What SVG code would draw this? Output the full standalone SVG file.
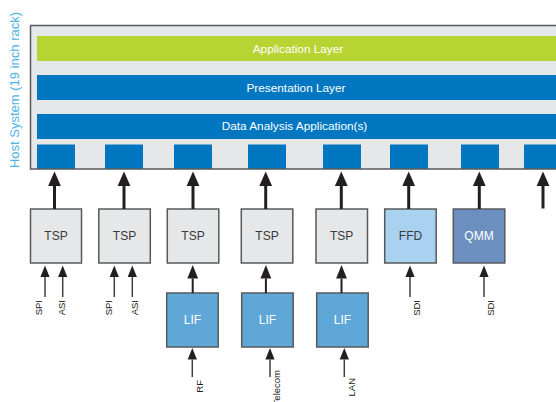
<svg xmlns="http://www.w3.org/2000/svg" width="556" height="402" viewBox="0 0 556 402">
<style>
text{font-family:"Liberation Sans",Arial,sans-serif}
.bar{font-size:11.8px;fill:#fff;text-anchor:middle}
.node{stroke:#58595b;stroke-width:1.5}
.tsp{fill:#e6e7e8}
.lif{fill:#5ea7d6}
.ffd{fill:#a9d2f1}
.qmm{fill:#6b90bf}
.sq{fill:#0077c0}
.lbl{font-size:12px;text-anchor:middle}
.dark{fill:#3a3a3c}
.light{fill:#fff}
.in{font-size:9.5px;fill:#231f20;text-anchor:end}
.thick{stroke:#231f20;stroke-width:3;fill:none}
.mid{stroke:#231f20;stroke-width:2;fill:none}
.thin{stroke:#414042;stroke-width:1.5;fill:none}
</style>
<defs>
<marker id="hT" markerUnits="userSpaceOnUse" markerWidth="15" markerHeight="13" refX="0" refY="6.4" orient="auto" overflow="visible"><path d="M0,0 L14.5,6.4 L0,12.8 z" fill="#231f20"/></marker>
<marker id="hM" markerUnits="userSpaceOnUse" markerWidth="14" markerHeight="11" refX="0" refY="5.4" orient="auto" overflow="visible"><path d="M0,0 L13.5,5.4 L0,10.8 z" fill="#231f20"/></marker>
<marker id="hS" markerUnits="userSpaceOnUse" markerWidth="12" markerHeight="10" refX="0" refY="4.6" orient="auto" overflow="visible"><path d="M0,0 L11.5,4.6 L0,9.2 z" fill="#231f20"/></marker>
</defs>

<g id="host">
<rect x="30.5" y="25.5" width="540" height="143.5" fill="#e6e7e8"/>
<rect x="37" y="36" width="530" height="25" fill="#b8d432"/>
<text class="bar" x="298" y="52.5">Application Layer</text>
<rect x="37" y="75" width="530" height="25" fill="#0077c0"/>
<text class="bar" x="296" y="91.5">Presentation Layer</text>
<rect x="37" y="114" width="530" height="25" fill="#0077c0"/>
<text class="bar" x="294.5" y="130">Data Analysis Application(s)</text>
<rect class="sq" x="37" y="144.5" width="38" height="24.5"/>
<rect class="sq" x="105" y="144.5" width="38" height="24.5"/>
<rect class="sq" x="174" y="144.5" width="38" height="24.5"/>
<rect class="sq" x="248" y="144.5" width="38" height="24.5"/>
<rect class="sq" x="323" y="144.5" width="38" height="24.5"/>
<rect class="sq" x="390" y="144.5" width="38" height="24.5"/>
<rect class="sq" x="461" y="144.5" width="38" height="24.5"/>
<rect class="sq" x="524" y="144.5" width="38" height="24.5"/>
<rect x="30.5" y="25.5" width="540" height="143.5" fill="none" stroke="#58595b" stroke-width="1.5"/>
<text transform="translate(19.3,90) rotate(-90)" font-size="13" fill="#4db3e6" text-anchor="middle">Host System (19 inch rack)</text>
</g>

<g id="tsp1"><rect class="node tsp" x="30.5" y="209" width="51" height="54"/><text class="lbl dark" x="56" y="240">TSP</text></g>
<g id="tsp2"><rect class="node tsp" x="98.8" y="209" width="51.5" height="54"/><text class="lbl dark" x="124.5" y="240">TSP</text></g>
<g id="tsp3"><rect class="node tsp" x="167.3" y="209" width="51.5" height="54"/><text class="lbl dark" x="193" y="240">TSP</text></g>
<g id="tsp4"><rect class="node tsp" x="241.3" y="209" width="51.5" height="54"/><text class="lbl dark" x="267" y="240">TSP</text></g>
<g id="tsp5"><rect class="node tsp" x="316" y="209" width="51.5" height="54"/><text class="lbl dark" x="341.7" y="240">TSP</text></g>
<g id="ffd"><rect class="node ffd" x="384.7" y="209" width="51.5" height="54"/><text class="lbl dark" x="410.5" y="240">FFD</text></g>
<g id="qmm"><rect class="node qmm" x="453.3" y="209" width="51.5" height="54"/><text class="lbl light" x="479" y="240">QMM</text></g>
<g id="lif1"><rect class="node lif" x="166.7" y="293" width="51.5" height="54"/><text class="lbl light" x="192.4" y="324">LIF</text></g>
<g id="lif2"><rect class="node lif" x="241.7" y="293" width="51.5" height="54"/><text class="lbl light" x="267.4" y="324">LIF</text></g>
<g id="lif3"><rect class="node lif" x="316.7" y="293" width="51.5" height="54"/><text class="lbl light" x="342.4" y="324">LIF</text></g>

<g id="connectors">
<line class="thick" x1="54.5" y1="209" x2="54.5" y2="186" marker-end="url(#hT)"/>
<line class="thick" x1="124" y1="209" x2="124" y2="186" marker-end="url(#hT)"/>
<line class="thick" x1="193" y1="209" x2="193" y2="186" marker-end="url(#hT)"/>
<line class="thick" x1="265.7" y1="209" x2="265.7" y2="186" marker-end="url(#hT)"/>
<line class="thick" x1="341.3" y1="209" x2="341.3" y2="186" marker-end="url(#hT)"/>
<line class="thick" x1="408.7" y1="209" x2="408.7" y2="186" marker-end="url(#hT)"/>
<line class="thick" x1="479.3" y1="209" x2="479.3" y2="186" marker-end="url(#hT)"/>
<line class="thick" x1="543" y1="208.5" x2="543" y2="186" marker-end="url(#hT)"/>
<line class="mid" x1="192.7" y1="293" x2="192.7" y2="278.5" marker-end="url(#hM)"/>
<line class="mid" x1="265.9" y1="293" x2="265.9" y2="278.5" marker-end="url(#hM)"/>
<line class="mid" x1="341.5" y1="293" x2="341.5" y2="278.5" marker-end="url(#hM)"/>
<line class="thin" x1="45" y1="297" x2="45" y2="277" marker-end="url(#hS)"/>
<line class="thin" x1="62.7" y1="297" x2="62.7" y2="277" marker-end="url(#hS)"/>
<line class="thin" x1="114.3" y1="297" x2="114.3" y2="277" marker-end="url(#hS)"/>
<line class="thin" x1="132.3" y1="297" x2="132.3" y2="277" marker-end="url(#hS)"/>
<line class="thin" x1="410" y1="297" x2="410" y2="277" marker-end="url(#hS)"/>
<line class="thin" x1="484" y1="297" x2="484" y2="277" marker-end="url(#hS)"/>
<line class="thin" x1="192.3" y1="377" x2="192.3" y2="359.5" marker-end="url(#hS)"/>
<line class="thin" x1="270" y1="377" x2="270" y2="359.5" marker-end="url(#hS)"/>
<line class="thin" x1="344.3" y1="377" x2="344.3" y2="359.5" marker-end="url(#hS)"/>
<text class="in" transform="translate(41.7,300) rotate(-90)">SPI</text>
<text class="in" transform="translate(65,300) rotate(-90)">ASI</text>
<text class="in" transform="translate(111.7,300) rotate(-90)">SPI</text>
<text class="in" transform="translate(138.3,300) rotate(-90)">ASI</text>
<text class="in" transform="translate(420,300) rotate(-90)">SDI</text>
<text class="in" transform="translate(494,300) rotate(-90)">SDI</text>
<text class="in" transform="translate(203.3,380) rotate(-90)">RF</text>
<text class="in" transform="translate(280,370) rotate(-90)">Telecom</text>
<text class="in" transform="translate(355,378) rotate(-90)">LAN</text>
</g>
</svg>
